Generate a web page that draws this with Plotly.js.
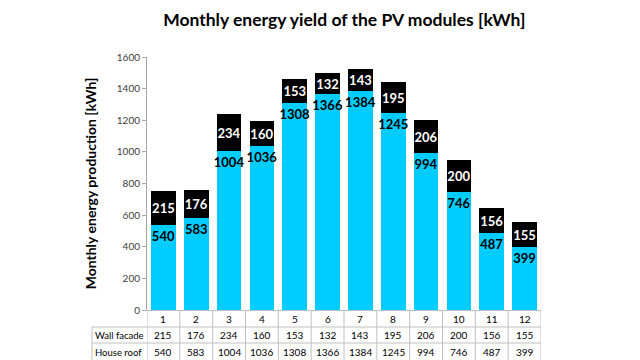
<!DOCTYPE html>
<html>
<head>
<meta charset="utf-8">
<script src="https://cdn.plot.ly/plotly-3.0.1.min.js"></script>
<style>html,body{margin:0;padding:0;background:#fff;}#chart{width:640px;height:360px;}</style>
</head>
<body>
<div id="chart"></div>
<script>
const months = [1, 2, 3, 4, 5, 6, 7, 8, 9, 10, 11, 12];
const wallFacade = [215, 176, 234, 160, 153, 132, 143, 195, 206, 200, 156, 155];
const houseRoof = [540, 583, 1004, 1036, 1308, 1366, 1384, 1245, 994, 746, 487, 399];
const rowLabels = ['Wall facade', 'House roof'];
const yTicks = [0, 200, 400, 600, 800, 1000, 1200, 1400, 1600];

const FONT = 'Lato, sans-serif';
const W = 640, H = 360;
const plotLeft = 147, plotRight = 541, plotTop = 57, plotBottom = 310;
const tableLeft = 92;
const rowLines = [327, 343];
const rowCenters = [318.5, 335, 352];
const px = v => v / W;
const py = v => 1 - v / H;

const traces = [
  {
    type: 'bar', name: 'House roof', x: months, y: houseRoof,
    text: houseRoof.map(String), textposition: 'inside', insidetextanchor: 'end',
    textangle: 0, constraintext: 'none',
    textfont: {family: FONT, size: 13, color: '#000', weight: 'bold'},
    marker: {color: '#00CCFF'}, hoverinfo: 'skip'
  },
  {
    type: 'bar', name: 'Wall facade', x: months, y: wallFacade,
    text: wallFacade.map(String), textposition: 'inside', insidetextanchor: 'middle',
    textangle: 0, constraintext: 'none',
    textfont: {family: FONT, size: 13, color: '#fff', weight: 'bold'},
    marker: {color: '#000000'}, hoverinfo: 'skip'
  }
];

const shapes = [];
const gridColor = '#bfbfbf';
for (let i = 0; i <= months.length; i++) {
  shapes.push({type: 'line', xref: 'x', yref: 'paper', x0: months[0] - 0.5 + i, x1: months[0] - 0.5 + i,
    y0: 0, y1: py(plotBottom), line: {color: gridColor, width: 1}});
}
shapes.push({type: 'line', xref: 'paper', yref: 'paper', x0: px(tableLeft), x1: px(tableLeft),
  y0: 0, y1: py(rowLines[0]), line: {color: gridColor, width: 1}});
rowLines.forEach(r => shapes.push({type: 'line', xref: 'paper', yref: 'paper', x0: px(tableLeft), x1: px(plotRight),
  y0: py(r), y1: py(r), line: {color: gridColor, width: 1}}));

const annotations = [];
const cellFont = {family: FONT, size: 10, color: '#000'};
const labelFont = {family: FONT, size: 9.5, color: '#000'};
months.forEach((m, i) => {
  annotations.push({xref: 'x', yref: 'paper', x: m, y: py(rowCenters[0]), text: String(m), showarrow: false, font: cellFont, yanchor: 'middle'});
  annotations.push({xref: 'x', yref: 'paper', x: m, y: py(rowCenters[1]), text: String(wallFacade[i]), showarrow: false, font: cellFont, yanchor: 'middle'});
  annotations.push({xref: 'x', yref: 'paper', x: m, y: py(rowCenters[2]), text: String(houseRoof[i]), showarrow: false, font: cellFont, yanchor: 'middle'});
});
rowLabels.forEach((lab, k) => {
  annotations.push({xref: 'paper', yref: 'paper', x: px(tableLeft + 1), y: py(rowCenters[k + 1]), xanchor: 'left', yanchor: 'middle',
    text: lab, showarrow: false, font: labelFont});
});

const layout = {
  width: W, height: H,
  margin: {l: 0, r: 0, t: 0, b: 0},
  paper_bgcolor: '#fff', plot_bgcolor: '#fff',
  showlegend: false,
  barmode: 'stack', bargap: 0.25,
  title: {text: 'Monthly energy yield of the PV modules [kWh]', x: 0.538, xanchor: 'center', y: py(20), yanchor: 'middle',
    font: {family: FONT, size: 17.5, color: '#000', weight: 'bold'}},
  xaxis: {domain: [px(plotLeft), px(plotRight)], range: [0.5, 12.5], showticklabels: false, ticks: '',
    showgrid: false, zeroline: false, showline: true, linecolor: gridColor, linewidth: 1, fixedrange: true},
  yaxis: {domain: [py(plotBottom), py(plotTop)], range: [0, 1600], tickvals: yTicks, ticktext: yTicks.map(String),
    showgrid: false, zeroline: false, showline: true, linecolor: '#a6a6a6', ticks: 'outside', ticklen: 4, tickcolor: '#a6a6a6',
    tickfont: {family: FONT, size: 10, color: '#404040'},
    title: {text: 'Monthly energy production [kWh]', standoff: 16, font: {family: FONT, size: 14, color: '#000', weight: 'bold'}},
    fixedrange: true},
  shapes: shapes,
  annotations: annotations
};

Plotly.newPlot('chart', traces, layout, {staticPlot: true, displayModeBar: false});
</script>
</body>
</html>
